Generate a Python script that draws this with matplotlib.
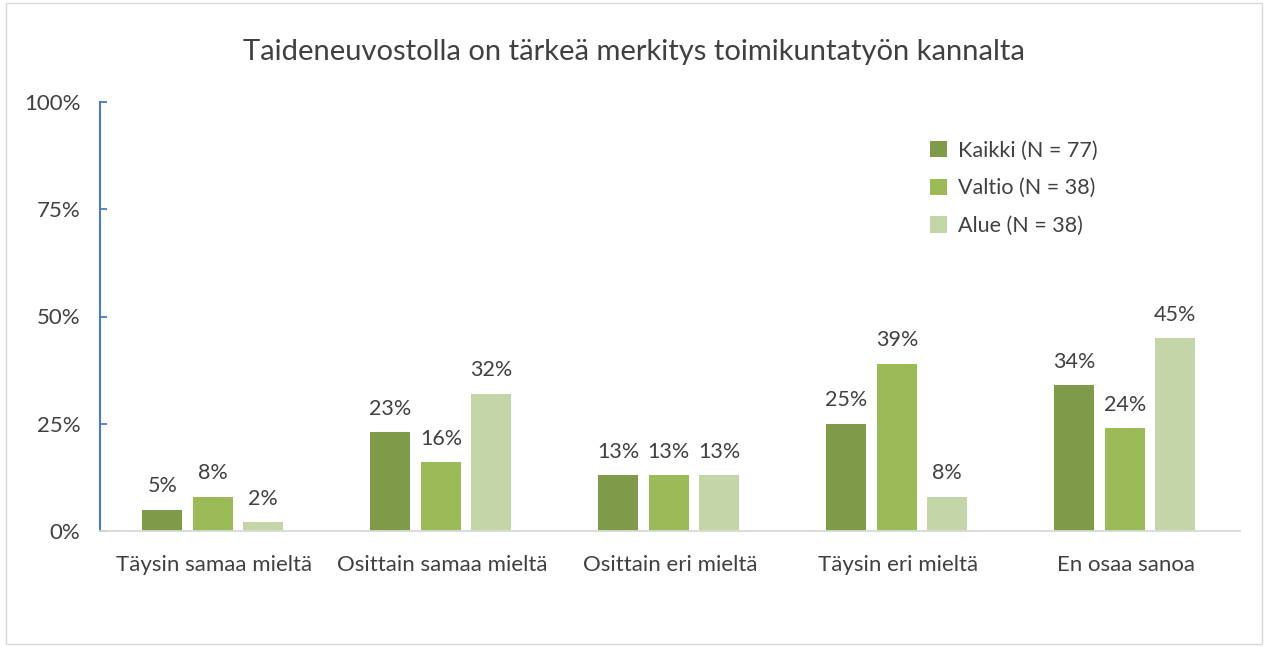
import matplotlib
matplotlib.use("Agg")
import matplotlib.pyplot as plt
import numpy as np
from matplotlib.patches import Rectangle

categories = ["Täysin samaa mieltä", "Osittain samaa mieltä", "Osittain eri mieltä",
              "Täysin eri mieltä", "En osaa sanoa"]
series_names = ["Kaikki (N = 77)", "Valtio (N = 38)", "Alue (N = 38)"]
kaikki = [5, 23, 13, 25, 34]
valtio = [8, 16, 13, 39, 24]
alue = [2, 32, 13, 8, 45]
yticks = [0, 25, 50, 75, 100]
ytick_labels = ["0%", "25%", "50%", "75%", "100%"]
title = "Taideneuvostolla on tärkeä merkitys toimikuntatyön kannalta"

colors = ["#7f9a48", "#9bbb59", "#c4d6a8"]
font = ["Lato", "DejaVu Sans"]
plt.rcParams["font.family"] = font
txtc = "#404040"

fig = plt.figure(figsize=(12.68, 6.47), dpi=100)
fig.patches.append(Rectangle((0.005, 0.004), 0.99, 0.992, transform=fig.transFigure,
                             fill=False, edgecolor="#d9d9d9", linewidth=1))
ax = fig.add_axes([100/1268, (647-531)/647, (1240-100)/1268, (531-102)/647])

x = np.arange(len(categories))
w = 40/228
step = 50.5/228
for i, (vals, name) in enumerate(zip([kaikki, valtio, alue], series_names)):
    pos = x + (i-1)*step - 0.005
    bars = ax.bar(pos, vals, width=w, color=colors[i], label=name, zorder=2)
    for b, v in zip(bars, vals):
        ax.text(b.get_x()+b.get_width()/2, v+3.1, f"{v}%", ha="center", va="bottom",
                fontsize=15.5, color=txtc)

ax.set_xlim(-0.5, len(categories)-0.5)
ax.set_ylim(0, 100)
ax.set_yticks(yticks)
ax.set_yticklabels(ytick_labels, fontsize=16, color=txtc)
ax.set_xticks(x)
ax.set_xticklabels(categories, fontsize=16, color=txtc)
ax.tick_params(axis="y", direction="in", length=5, color="#4a7ebb", width=1.3, pad=14)
ax.tick_params(axis="x", length=0, pad=17)
for s in ["top", "right"]:
    ax.spines[s].set_visible(False)
ax.spines["left"].set_color("#4a7ebb")
ax.spines["left"].set_linewidth(1.5)
ax.spines["bottom"].set_color("#d9d9d9")
ax.spines["bottom"].set_linewidth(1.3)

fig.text(0.5, 1-52/647, title, ha="center", va="center", fontsize=21, color=txtc)

leg = ax.legend(loc="upper left", bbox_to_anchor=(0.711, 0.955), frameon=False, fontsize=15.5,
                handlelength=0.8, handleheight=0.8, labelspacing=0.82, handletextpad=0.5)
for t in leg.get_texts():
    t.set_color(txtc)

fig.savefig("out.png", dpi=100)
